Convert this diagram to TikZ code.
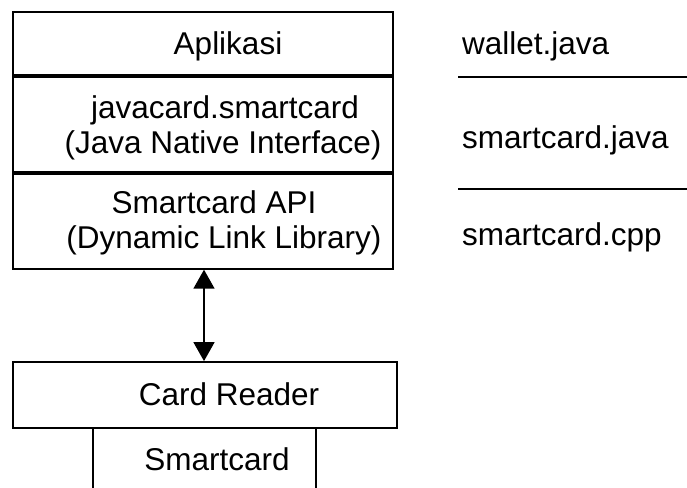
\documentclass[tikz,border=0pt]{standalone}
\usepackage{fontspec}
\setmainfont{Liberation Sans}
\usetikzlibrary{arrows.meta}
\begin{document}
\begin{tikzpicture}[x=1pt,y=-1pt,
  frame/.style={draw=black,line width=1.8pt},
  divider/.style={draw=black,line width=3.2pt},
  rule/.style={draw=black,line width=1.8pt},
  lbl/.style={font=\fontsize{31.5}{36}\selectfont,inner sep=0pt,anchor=base},
  side/.style={font=\fontsize{31.5}{36}\selectfont,inner sep=0pt,anchor=base west},
  link/.style={line width=1.6pt,{Triangle[width=21pt,length=19pt]}-{Triangle[width=21pt,length=19pt]}}]
\useasboundingbox (0,0) rectangle (687,487);

% layered software stack
\coordinate (stackNW) at (13,12);
\coordinate (stackSE) at (393,269);
\coordinate (cut1W) at (13,76);  \coordinate (cut1E) at (393,76);
\coordinate (cut2W) at (13,173); \coordinate (cut2E) at (393,173);
\path[frame] (stackNW) rectangle (stackSE);
\path[divider] (cut1W) -- (cut1E);
\path[divider] (cut2W) -- (cut2E);
\node[inner sep=0pt] (api) at (203,269) {};

\node[lbl] (tApp) at (228,54) {Aplikasi};
\node[lbl] (tJni1) at (225,118) {javacard.smartcard};
\node[lbl] (tJni2) at (223,153) {(Java Native Interface)};
\node[lbl] (tApi1) at (214,213) {Smartcard API};
\node[lbl] (tApi2) at (224,248) {(Dynamic Link Library)};

% hardware
\node[frame,minimum width=384pt,minimum height=66pt,inner sep=0pt] (reader) at (205,395) {};
\node[lbl] (tReader) at (229,405) {Card Reader};
\coordinate (cardBL) at (93,490);
\coordinate (cardTL) at (93,428);
\coordinate (cardTR) at (316,428);
\coordinate (cardBR) at (316,490);
\path[frame] (cardBL) -- (cardTL) -- (cardTR) -- (cardBR);
\node[lbl] (tCard) at (217,470) {Smartcard};

\draw[link] (api.south -| 204,0) -- (reader.north -| 204,0);

% source files per layer
\node[side] (fWallet) at (462,54) {wallet.java};
\node[side] (fJava) at (462,148) {smartcard.java};
\node[side] (fCpp) at (462,245) {smartcard.cpp};
\coordinate (r1a) at (458,77);  \coordinate (r1b) at (687,77);
\coordinate (r2a) at (458,189); \coordinate (r2b) at (687,189);
\path[rule] (r1a) -- (r1b);
\path[rule] (r2a) -- (r2b);
\end{tikzpicture}
\end{document}
